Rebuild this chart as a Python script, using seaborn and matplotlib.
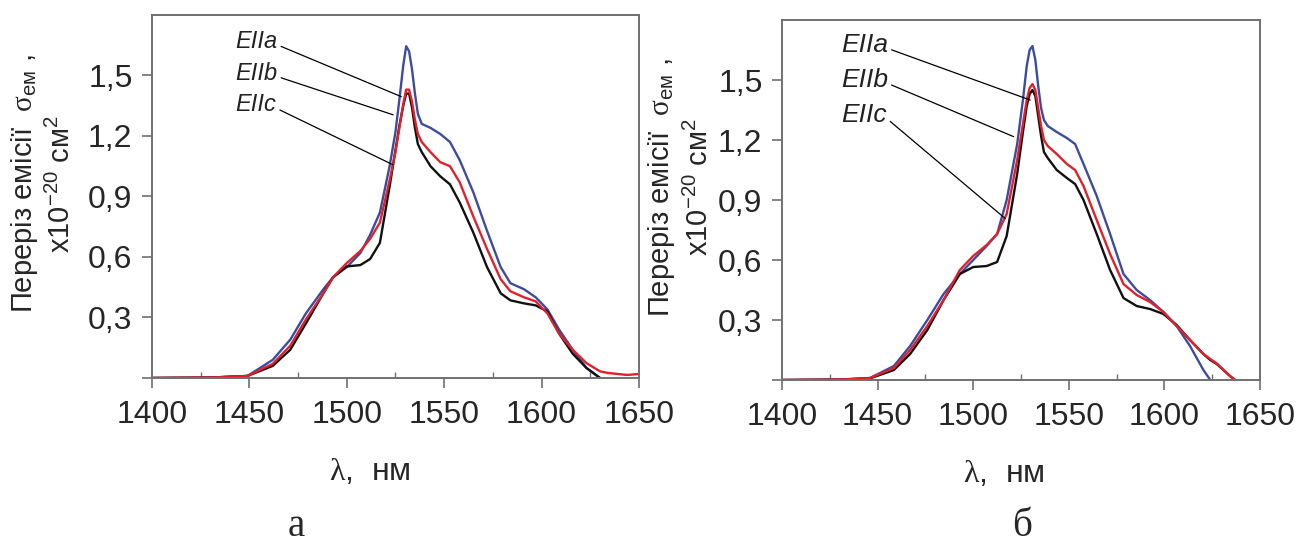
import numpy as np
import matplotlib
matplotlib.use("Agg")
import matplotlib.pyplot as plt
import seaborn as sns

# ---------------- data ----------------
# panel (a)
lam_a = [1400, 1430, 1449, 1462, 1471, 1479, 1488, 1493, 1500, 1507, 1512, 1517, 1522,
         1525, 1527, 1529, 1530.5, 1532, 1533.5, 1535, 1536.5, 1538.5, 1543, 1548, 1553,
         1558, 1565, 1572, 1579, 1584, 1591, 1597, 1603, 1609, 1616, 1623, 1630, 1634,
         1644, 1650]
a_EIIa = [0, 0.002, 0.01, 0.09, 0.19, 0.32, 0.44, 0.50, 0.55, 0.62, 0.71, 0.82, 1.05,
          1.22, 1.38, 1.55, 1.645, 1.62, 1.53, 1.41, 1.31, 1.26, 1.24, 1.21, 1.17,
          1.08, 0.92, 0.73, 0.55, 0.47, 0.44, 0.40, 0.34, 0.24, 0.14, 0.05, 0.0, np.nan,
          np.nan, np.nan]
a_EIIb = [0, 0.002, 0.01, 0.07, 0.16, 0.29, 0.42, 0.50, 0.57, 0.63, 0.69, 0.77, 0.98,
          1.12, 1.24, 1.36, 1.43, 1.43, 1.37, 1.28, 1.21, 1.17, 1.12, 1.07, 1.05,
          0.97, 0.80, 0.64, 0.49, 0.43, 0.40, 0.38, 0.32, 0.22, 0.14, 0.074, 0.033, 0.025,
          0.015, 0.02]
a_EIIc = [0, 0.002, 0.01, 0.06, 0.14, 0.27, 0.42, 0.50, 0.553, 0.56, 0.59, 0.67, 0.95,
          1.13, 1.25, 1.35, 1.41, 1.41, 1.34, 1.24, 1.16, 1.12, 1.05, 1.00, 0.96,
          0.87, 0.72, 0.55, 0.42, 0.385, 0.37, 0.36, 0.33, 0.22, 0.12, 0.05, 0.0, np.nan,
          np.nan, np.nan]

# panel (б)
lam_b = [1400, 1430, 1446, 1458.5, 1467, 1476, 1484.5, 1493, 1500, 1507, 1512.5, 1517.5,
         1523, 1526, 1528, 1529.5, 1531, 1532.5, 1534, 1535.5, 1537, 1539, 1543.7, 1549,
         1553.3, 1557.7, 1564.6, 1571.6, 1578.6, 1585.5, 1592.5, 1599.5, 1606.4, 1613.4,
         1620.4, 1624, 1627.4, 1634.3, 1637]
b_EIIa = [0, 0.002, 0.01, 0.07, 0.17, 0.30, 0.43, 0.53, 0.60, 0.67, 0.73, 0.90,
          1.18, 1.40, 1.57, 1.65, 1.67, 1.60, 1.47, 1.36, 1.30, 1.27, 1.24, 1.21,
          1.18, 1.08, 0.92, 0.73, 0.53, 0.45, 0.40, 0.34, 0.27, 0.17,
          0.05, 0.0, np.nan, np.nan, np.nan]
b_EIIb = [0, 0.002, 0.01, 0.06, 0.15, 0.27, 0.40, 0.55, 0.62, 0.675, 0.73, 0.83,
          1.10, 1.28, 1.40, 1.46, 1.48, 1.45, 1.36, 1.27, 1.20, 1.17, 1.13, 1.08,
          1.05, 0.97, 0.80, 0.63, 0.48, 0.425, 0.39, 0.34, 0.27, 0.20,
          0.13, 0.105, 0.083, 0.02, 0.0]
b_EIIc = [0, 0.002, 0.008, 0.05, 0.13, 0.25, 0.40, 0.53, 0.565, 0.57, 0.59, 0.72,
          1.03, 1.24, 1.37, 1.43, 1.45, 1.42, 1.32, 1.22, 1.14, 1.11, 1.05, 1.01,
          0.98, 0.90, 0.73, 0.55, 0.41, 0.37, 0.355, 0.33, 0.275, 0.20,
          0.13, 0.10, 0.08, 0.02, 0.0]

series_names = ["EIIa", "EIIb", "EIIc"]
series_colors = ["#3d4c9e", "#e0212b", "#111111"]

x_ticks = [1400, 1450, 1500, 1550, 1600, 1650]
y_ticks = [0, 0.3, 0.6, 0.9, 1.2, 1.5]
y_ticklabels = ["", "0,3", "0,6", "0,9", "1,2", "1,5"]

ylabel_text = "Переріз емісії  $\\mathrm{σ}_{ем}$ ,\nх10$^{-20}$ см$^{2}$"
xlabel_text = "$\\mathrm{λ}$,  нм"
panel_labels = ["а", "б"]

# annotation geometry (text position, line end) per panel
ann_a = [((1443, 1.668), (1528, 1.395)),
         ((1443, 1.511), (1523.8, 1.305)),
         ((1443, 1.354), (1523.8, 1.057))]
ann_b = [((1431, 1.675), (1529.8, 1.40)),
         ((1431, 1.50), (1521.1, 1.217)),
         ((1431, 1.325), (1516.7, 0.808))]

# ---------------- style ----------------
sns.set_style("ticks")
plt.rcParams["font.family"] = ["Liberation Sans", "DejaVu Sans"]
plt.rcParams["mathtext.fontset"] = "custom"
plt.rcParams["mathtext.rm"] = "Liberation Serif"
plt.rcParams["mathtext.it"] = "Liberation Sans:italic"
plt.rcParams["mathtext.default"] = "regular"

fig = plt.figure(figsize=(13.11, 5.49), dpi=100)
ax1 = fig.add_axes([0.1159, 0.3115, 0.3715, 0.6612])
ax2 = fig.add_axes([0.5965, 0.3078, 0.3646, 0.6557])

spine_col = "#707070"

def draw(ax, lam, vals, anns, ann_fs, xlab_x, ylab_x):
    order = [0, 2, 1]  # blue, black, red on top
    for i in order:
        sns.lineplot(x=lam, y=vals[i], ax=ax, color=series_colors[i], lw=1.7,
                     estimator=None, sort=False, legend=False)
    ax.set_xlim(1400, 1650)
    ax.set_ylim(0, 1.8)
    ax.set_xticks(x_ticks)
    ax.set_xticklabels([str(t) for t in x_ticks])
    ax.set_xticks(np.arange(1425, 1650, 50), minor=True)
    ax.set_yticks(y_ticks)
    ax.set_yticklabels(y_ticklabels)
    ax.tick_params(axis="both", which="major", labelsize=23, length=7, width=1.2,
                   color=spine_col, direction="out", pad=7)
    ax.tick_params(axis="x", which="major", pad=9)
    ax.tick_params(axis="x", which="minor", length=4, width=1.0, color=spine_col,
                   direction="in")
    for s in ax.spines.values():
        s.set_visible(True)
        s.set_color(spine_col)
        s.set_linewidth(1.4)
    ax.set_xlabel(xlabel_text, fontsize=23, va="center")
    ax.xaxis.set_label_coords(xlab_x, -0.26)
    ax.set_ylabel(ylabel_text, fontsize=21, linespacing=1.3)
    ax.yaxis.set_label_coords(ylab_x, 0.535)
    for name, (txt, end) in zip(series_names, anns):
        ax.annotate(name, xy=end, xytext=txt, ha="left", va="center",
                    fontsize=ann_fs, style="italic", color="#222222",
                    arrowprops=dict(arrowstyle="-", lw=0.9, color="black",
                                    shrinkA=0, shrinkB=0, relpos=(1.0, 0.35)))

draw(ax1, lam_a, [a_EIIa, a_EIIb, a_EIIc], ann_a, 17, 0.448, -0.155)
draw(ax2, lam_b, [b_EIIa, b_EIIb, b_EIIc], ann_b, 19, 0.464, -0.143)

fig.text(296 / 1311, 1 - 527 / 549, panel_labels[0], fontsize=28,
         family=["Liberation Serif", "DejaVu Serif"], ha="center", va="center")
fig.text(1022 / 1311, 1 - 527 / 549, panel_labels[1], fontsize=28,
         family=["Liberation Serif", "DejaVu Serif"], ha="center", va="center")

fig.savefig("out.png", dpi=100)
